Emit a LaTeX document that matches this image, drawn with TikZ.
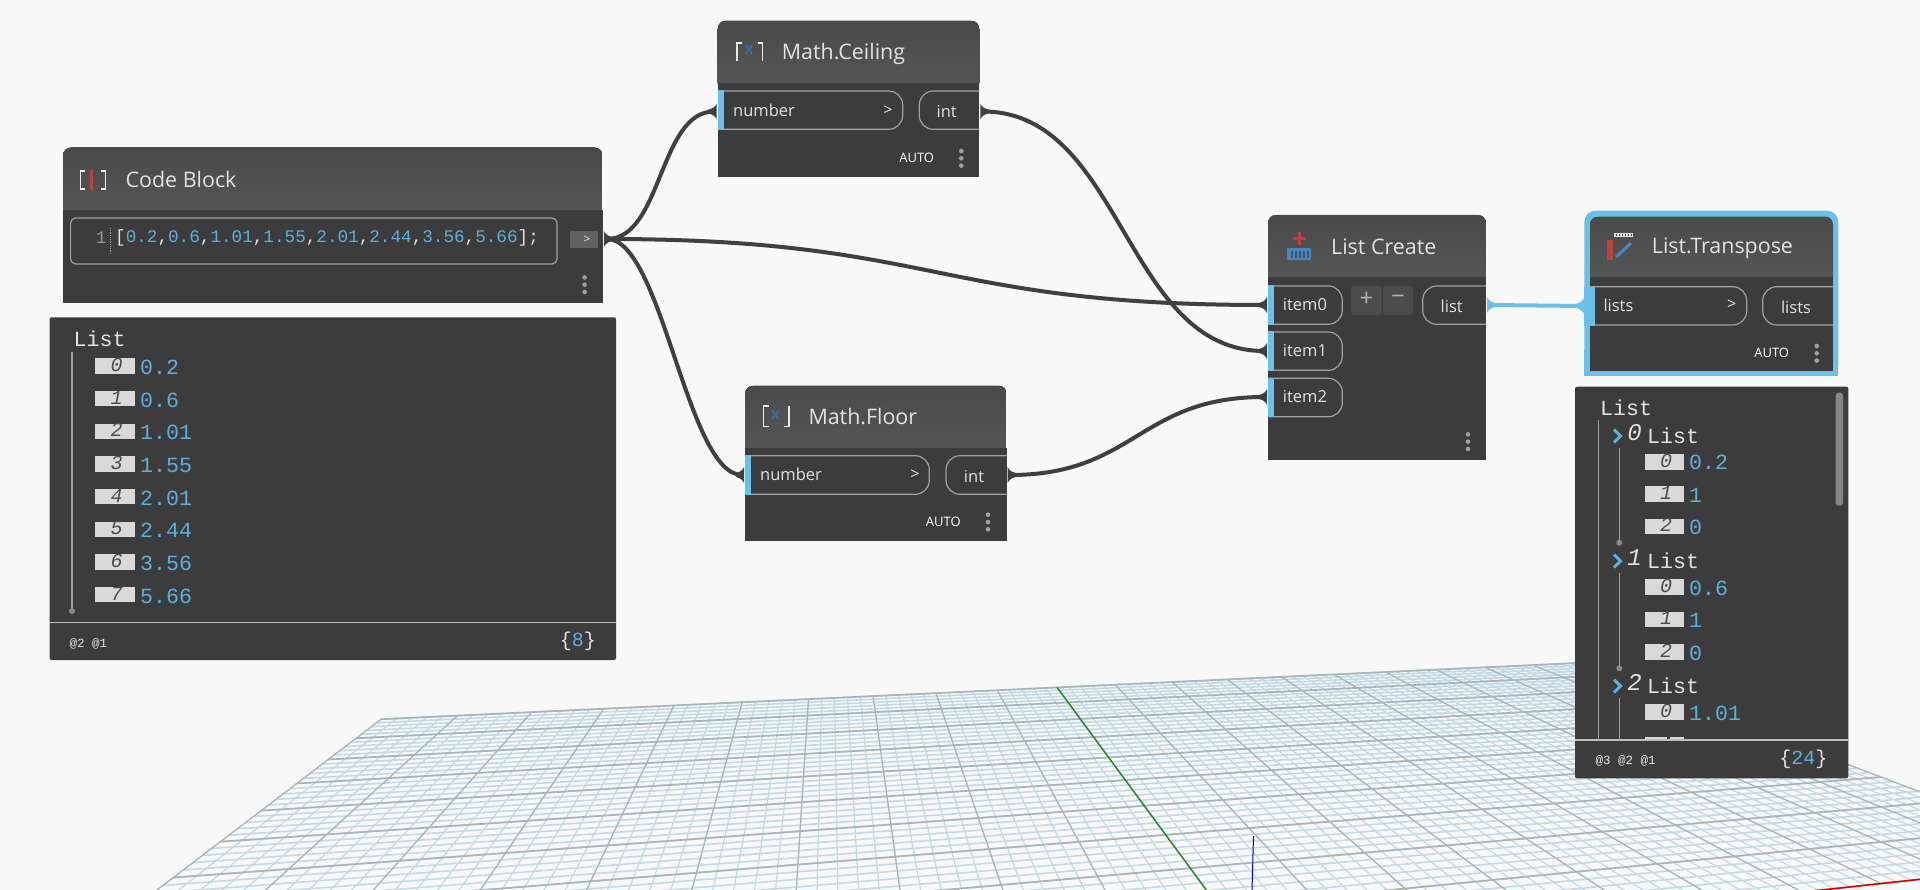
\documentclass[tikz,border=0pt]{standalone}
\usepackage{fontspec}
\setmainfont{Open Sans}
\newfontfamily\monof{Liberation Mono}
\definecolor{bgc}{HTML}{F8F8F8}
\definecolor{bodyc}{HTML}{3C3C3C}
\definecolor{headc}{HTML}{555555}
\definecolor{headt}{HTML}{4A4A4A}
\definecolor{wirec}{HTML}{404040}
\definecolor{portb}{HTML}{6AC0E7}
\definecolor{valc}{HTML}{5DB0DC}
\definecolor{txtc}{HTML}{E2E2E2}
\definecolor{pillc}{HTML}{A0A0A0}
\definecolor{dotc}{HTML}{A0A0A0}
\definecolor{minorc}{HTML}{C3D9E6}
\definecolor{majorc}{HTML}{A8B6BC}
\definecolor{idxc}{HTML}{D9D9D9}
\definecolor{redi}{HTML}{C0403C}
\definecolor{bluei}{HTML}{4A86BD}
\newcommand\fs[1]{\fontsize{#1}{#1}\selectfont}
\tikzset{
  titletext/.style={anchor=west,inner sep=0pt,text=txtc,font=\fs{21.4}},
  porttext/.style={anchor=west,inner sep=0pt,text=txtc,font=\fs{16.5}},
  outtext/.style={anchor=center,inner sep=0pt,text=txtc,font=\fs{16.5}},
  autotext/.style={anchor=center,inner sep=0pt,text=white,font=\fs{13}},
  arrowtext/.style={anchor=center,inner sep=0pt,text=txtc,font=\fs{16}},
  wire/.style={draw=wirec,line width=4pt},
  pill/.style={draw=pillc,line width=1.2pt,rounded corners=14pt},
  listhead/.style={anchor=west,inner sep=0pt,text=txtc,font=\monof\fs{21.6}},
  valtext/.style={anchor=west,inner sep=0pt,text=valc,font=\monof\fs{21.6}},
  idxtext/.style={anchor=center,inner sep=0pt,text=black!70,font=\monof\itshape\fs{20}},
  bigidx/.style={anchor=center,inner sep=0pt,text=txtc,font=\monof\itshape\fs{24}},
  small/.style={anchor=west,inner sep=0pt,text=txtc!85,font=\monof\fs{12.5}},
  treeline/.style={draw=white!62!black,line width=1.3pt},
  iconline/.style={draw=txtc!70,line width=1.4pt}
}
% node shell: x1 x2 ytop yhead ybot
\newcommand\shell[5]{%
  \begin{scope}
    \clip[rounded corners=8pt] (#1,#3) -- (#2,#3) -- (#2,#5+20) -- (#1,#5+20) -- cycle;
    \fill[top color=headt,bottom color=headc] (#1,#3) rectangle (#2,#4);
  \end{scope}
  \fill[bodyc] (#1,#4) rectangle (#2,#5);
}
\newcommand\threedots[2]{\foreach \d in {-7.3,0,7.3}{\fill[dotc] (#1,#2+\d) circle (2.3);}}
% in-port: x1 xright ytop ybot stripwidth
\newcommand\inport[5]{%
  \draw[pill] (#1,#3) -- (#2,#3) -- (#2,#4) -- (#1,#4);
  \fill[portb] (#1,#3-0.6) rectangle (#1+#5,#4+0.6);
}
\newcommand\outport[4]{\draw[pill] (#2,#3) -- (#1,#3) -- (#1,#4) -- (#2,#4);}
% connector ends (flares)
\newcommand\nubin[3][wirec]{\fill[#1] (#2-1,#3-8) .. controls (#2-2,#3-5) and (#2-5,#3-3) .. (#2-9,#3-2) -- (#2-9,#3+2) .. controls (#2-5,#3+3) and (#2-2,#3+5) .. (#2-1,#3+8) -- cycle;}
\newcommand\nubout[3][wirec]{\fill[#1] (#2+1,#3-8) .. controls (#2+2,#3-5) and (#2+5,#3-3) .. (#2+9,#3-2) -- (#2+9,#3+2) .. controls (#2+5,#3+3) and (#2+2,#3+5) .. (#2+1,#3+8) -- cycle;}
% grid
\newcommand\gridseg[5]{%
  \pgfmathsetmacro\wa{1+0.02367*(#2)+0.0855*(#3)}%
  \pgfmathsetmacro\wb{1+0.02367*(#4)+0.0855*(#5)}%
  \pgfmathsetmacro\xa{(134.4*(#2)+70.88*(#3)+1252)/\wa}%
  \pgfmathsetmacro\ya{(11.13*(#2)+32.32*(#3)+952)/\wa}%
  \pgfmathsetmacro\xb{(134.4*(#4)+70.88*(#5)+1252)/\wb}%
  \pgfmathsetmacro\yb{(11.13*(#4)+32.32*(#5)+952)/\wb}%
  \draw[#1] (\xa,\ya) -- (\xb,\yb);%
}
\begin{document}
\begin{tikzpicture}[x=1pt,y=-1pt]
\useasboundingbox (0,0) rectangle (1920,890);
\fill[bgc] (0,0) rectangle (1920,890);
% ---------- floor grid
\begin{scope}
\clip (0,0) rectangle (1920,890);
\foreach \i in {-50,...,50}{
  \pgfmathsetmacro\u{\i/5}
  \gridseg{minorc,line width=1.25pt}{\u}{0}{\u}{10}
}
\foreach \i in {0,...,50}{
  \pgfmathsetmacro\v{\i/5}
  \gridseg{minorc,line width=1.6pt}{-10}{\v}{10}{\v}
}
\foreach \i in {-10,...,10}{
  \gridseg{majorc,line width=1.2pt}{\i}{0}{\i}{10}
}
\foreach \i in {0,...,10}{
  \gridseg{majorc,line width=1.7pt}{-10}{\i}{10}{\i}
}
\gridseg{green!45!black!85!white,line width=1.4pt}{0}{0}{0}{10}
\gridseg{red!85!black,line width=1.5pt}{0}{0}{10}{0}
\draw[blue!85!black,line width=1pt] (1253.5,836) -- (1252,890);
\end{scope}
% ---------- port coordinates
\coordinate (cbOut) at (607,239);
\coordinate (ceilIn) at (714,111.5);
\coordinate (ceilOut) at (983,111.5);
\coordinate (floorIn) at (742,475);
\coordinate (floorOut) at (1010,475);
\coordinate (lcIn0) at (1264,305);
\coordinate (lcIn1) at (1264,351);
\coordinate (lcIn2) at (1264,397);
\coordinate (lcOut) at (1490,305);
\coordinate (ltIn) at (1584,306);
% ---------- wires
\draw[wire] (cbOut) to[out=0,in=180,out distance=55pt,in distance=55pt] (ceilIn);
\draw[wire] (cbOut) to[out=0,in=180,out distance=55pt,in distance=55pt] (floorIn);
\draw[wire] (cbOut) to[out=0,in=180,out distance=330pt,in distance=330pt] (lcIn0);
\draw[wire] (ceilOut) to[out=0,in=180,out distance=140pt,in distance=140pt] (lcIn1);
\draw[wire] (floorOut) to[out=0,in=180,out distance=125pt,in distance=125pt] (lcIn2);
\draw[draw=portb,line width=4pt] (lcOut) -- (ltIn);
\nubout{603}{239}
\nubin{717.7}{111.5}
\nubout{979.3}{111.5}
\nubin{745}{475}
\nubout{1006.7}{475}
\nubin{1268}{305}
\nubin{1268}{351}
\nubin{1268}{397}
\nubout[portb]{1486}{305}
\nubin[portb]{1585}{306}
% ---------- Code Block
\shell{63}{602.6}{147.5}{210}{303.5}
\draw[iconline] (85,171) -- (80.5,171) -- (80.5,189) -- (85,189);
\draw[iconline] (101,171) -- (105.5,171) -- (105.5,189) -- (101,189);
\draw[redi,line width=3.5pt] (91.7,170) -- (91.7,190);
\node[titletext] (cbT) at (125.5,179.3) {Code Block};
\draw[draw=pillc,line width=1.2pt,rounded corners=5pt] (70.6,218) rectangle (557,264);
\node[inner sep=0pt,text=white!60!black,font=\monof\fs{17.5}] (cbLn) at (101,238) {1};
\draw[draw=pillc,line width=0.8pt,densely dotted] (110.8,228) -- (110.8,254);
\node[anchor=west,inner sep=0pt,text=txtc,font=\monof\fs{17.65}] (cbCode) at (115,238) {[\textcolor{valc}{0.2},\textcolor{valc}{0.6},\textcolor{valc}{1.01},\textcolor{valc}{1.55},\textcolor{valc}{2.01},\textcolor{valc}{2.44},\textcolor{valc}{3.56},\textcolor{valc}{5.66}];};
\fill[white!38!black] (570,231) rectangle (597.6,248.3);
\node[arrowtext,font=\fs{12.5}] (cbArr) at (587,240) {>};
\threedots{584.6}{284.7}
% ---------- Watch 1
\fill[bodyc,rounded corners=2pt] (49.6,317.3) rectangle (616,660);
\draw[draw=white!75!black,line width=1.2pt] (49.6,622.7) -- (616,622.7);
\node[listhead] (w1L) at (73.5,339) {List};
\draw[treeline] (72,351.7) -- (72,611);
\fill[dotc!85!black] (72,611) circle (3);
\foreach \i/\lab/\val in {0/0/0.2,1/1/0.6,2/2/1.01,3/3/1.55,4/4/2.01,5/5/2.44,6/6/3.56,7/7/5.66}{
  \pgfmathsetmacro\yy{358.3+32.67*\i}
  \fill[idxc] (95,\yy) rectangle (134.5,\yy+15.4);
  \node[idxtext] (w1i\i) at (116.5,\yy+6.5) {\lab};
  \node[valtext] (w1v\i) at (140,\yy+9) {\val};
}
\node[small] (w1d) at (69.5,644) {@2 @1};
\node[anchor=east,inner sep=0pt,text=txtc,font=\monof\fs{20}] (w1c) at (596,641.5) {\{\textcolor{valc}{8}\}};
% ---------- Math.Ceiling
\shell{717.7}{979.3}{20.7}{83.3}{176.7}
\draw[iconline] (742,43) -- (737,43) -- (737,61.5);
\draw[iconline] (757.5,43) -- (762.5,43) -- (762.5,61.5);
\node[inner sep=0pt,text=bluei!80!black,font=\fs{16}\bfseries] (ceilX) at (749,50.5) {x};
\node[titletext] (ceilT) at (781.7,53.7) {Math.Ceiling};
\inport{717.7}{902.7}{91}{129.3}{6.6}
\outport{919.3}{979.3}{91}{129.3}
\node[porttext] (ceilP) at (733,110.5) {number};
\node[arrowtext] (ceilA) at (888,110.5) {>};
\node[outtext] (ceilO) at (946.7,112) {int};
\node[autotext] (ceilAuto) at (916.7,158.3) {AUTO};
\threedots{961.3}{158.3}
% ---------- Math.Floor
\shell{745}{1006.7}{385.7}{448.3}{541}
\draw[iconline] (768.5,406) -- (763.5,406) -- (763.5,426.5) -- (768.5,426.5);
\draw[iconline] (784,426.5) -- (789,426.5) -- (789,406);
\node[inner sep=0pt,text=bluei!80!black,font=\fs{16}\bfseries] (floorX) at (775.5,415.5) {x};
\node[titletext] (floorT) at (808.3,416.7) {Math.Floor};
\inport{745}{929.3}{455.7}{494.3}{6}
\outport{946}{1006.7}{455.7}{494.3}
\node[porttext] (floorP) at (760,474.5) {number};
\node[arrowtext] (floorA) at (915,475) {>};
\node[outtext] (floorO) at (974,476.5) {int};
\node[autotext] (floorAuto) at (943.3,521.7) {AUTO};
\threedots{988}{522}
% ---------- List Create
\shell{1268}{1486}{215}{277.3}{460}
\fill[redi] (1297.5,232) rectangle (1300.5,245);
\fill[redi] (1292.5,237) rectangle (1305.5,240);
\fill[bluei] (1287.3,248.3) rectangle (1311,260);
\foreach \xx in {1291,1295,1299,1303,1307}{\fill[bodyc!70!bluei] (\xx,251) rectangle (\xx+1.5,258);}
\node[titletext] (lcT) at (1331,246.8) {List Create};
\inport{1268}{1342.3}{286}{324.3}{6}
\inport{1268}{1342.3}{332}{370.3}{6}
\inport{1268}{1342.3}{378.3}{416.7}{6}
\node[porttext] (lcP0) at (1282.7,305) {item0};
\node[porttext] (lcP1) at (1282.7,350.7) {item1};
\node[porttext] (lcP2) at (1282.7,396.7) {item2};
\fill[white!30!black,rounded corners=3pt] (1351,285.7) rectangle (1381.5,315);
\fill[white!30!black,rounded corners=3pt] (1383,285.7) rectangle (1413,315);
\node[inner sep=0pt,text=white!70!black,font=\fs{24}] (lcPlus) at (1366.5,299.5) {+};
\node[inner sep=0pt,text=white!70!black,font=\fs{24}] (lcMinus) at (1398,299.5) {−};
\outport{1422.7}{1486}{286}{324.3}
\node[outtext] (lcO) at (1451.7,306.7) {list};
\threedots{1468}{441.7}
% ---------- List.Transpose
\fill[portb,rounded corners=11pt] (1584.3,210.7) -- (1838.3,210.7) -- (1838.3,376) -- (1584.3,376) -- cycle;
\fill[portb] (1584.3,350) rectangle (1838.3,376);
\shell{1590}{1833}{216.7}{277.3}{371}
\fill[redi] (1606.7,240) rectangle (1612.5,260);
\draw[bluei,line width=3pt] (1616,257) -- (1631,243);
\draw[txtc,line width=4pt] (1614,235.5) -- (1633,235.5);
\foreach \xx in {1616,1619,1622,1625,1628,1631}{\fill[bodyc] (\xx,234.5) rectangle (\xx+1,236.5);}
\node[titletext] (ltT) at (1651.7,248.3) {List.Transpose};
\draw[pill] (1590,286.7) -- (1746.7,286.7) -- (1746.7,325) -- (1590,325);
\fill[portb] (1584.3,286.7) rectangle (1595,325.6);
\outport{1762.7}{1833}{286.7}{325}
\node[porttext] (ltP) at (1603.3,305) {lists};
\node[arrowtext] (ltA) at (1731.7,305) {>};
\node[outtext] (ltO) at (1796,307.3) {lists};
\node[autotext] (ltAuto) at (1771.7,352.7) {AUTO};
\threedots{1816.7}{353.3}
% ---------- Watch 2
\fill[bodyc,rounded corners=2pt] (1575,386.7) rectangle (1848.3,778.3);
\fill[white!52!black,rounded corners=3pt] (1835.7,392.7) rectangle (1843,505.7);
\draw[draw=white!75!black,line width=1.2pt] (1575,740) -- (1848.3,740);
\node[listhead] (w2L) at (1600,407.3) {List};
\draw[treeline] (1598.3,420) -- (1598.3,740);
\foreach \k/\yy in {0/436,1/561,2/686}{
  \draw[draw=valc,line width=3pt] (1614,\yy-6.5) -- (1620.5,\yy) -- (1614,\yy+6.5);
  \node[bigidx] (w2k\k) at (1634.5,\yy-3.2) {\k};
  \node[listhead] (w2h\k) at (1647,\yy-0.5) {List};
}
\draw[treeline] (1619.3,448.3) -- (1619.3,542.7);
\fill[dotc!85!black] (1619.3,542.7) circle (3);
\draw[treeline] (1619.3,573.3) -- (1619.3,668.3);
\fill[dotc!85!black] (1619.3,668.3) circle (3);
\draw[treeline] (1619.3,698.3) -- (1619.3,740);
\foreach \idn/\lab/\yy/\val in {a/0/454/0.2,b/1/486.4/1,c/2/518.8/0,d/0/579.3/0.6,e/1/611.7/1,f/2/644.3/0,g/0/704.3/1.01}{
  \fill[idxc] (1644.7,\yy) rectangle (1684,\yy+15.6);
  \node[idxtext] (w2i\idn) at (1666,\yy+6.5) {\lab};
  \node[valtext] (w2v\idn) at (1689,\yy+8.8) {\val};
}
\fill[idxc] (1644.7,736.8) rectangle (1666.5,739.4);
\fill[idxc] (1670,736.8) rectangle (1684,739.4);
\node[small] (w2d) at (1595.5,760.7) {@3 @2 @1};
\node[anchor=east,inner sep=0pt,text=txtc,font=\monof\fs{20}] (w2c) at (1827.5,759) {\{\textcolor{valc}{24}\}};
\end{tikzpicture}
\end{document}
